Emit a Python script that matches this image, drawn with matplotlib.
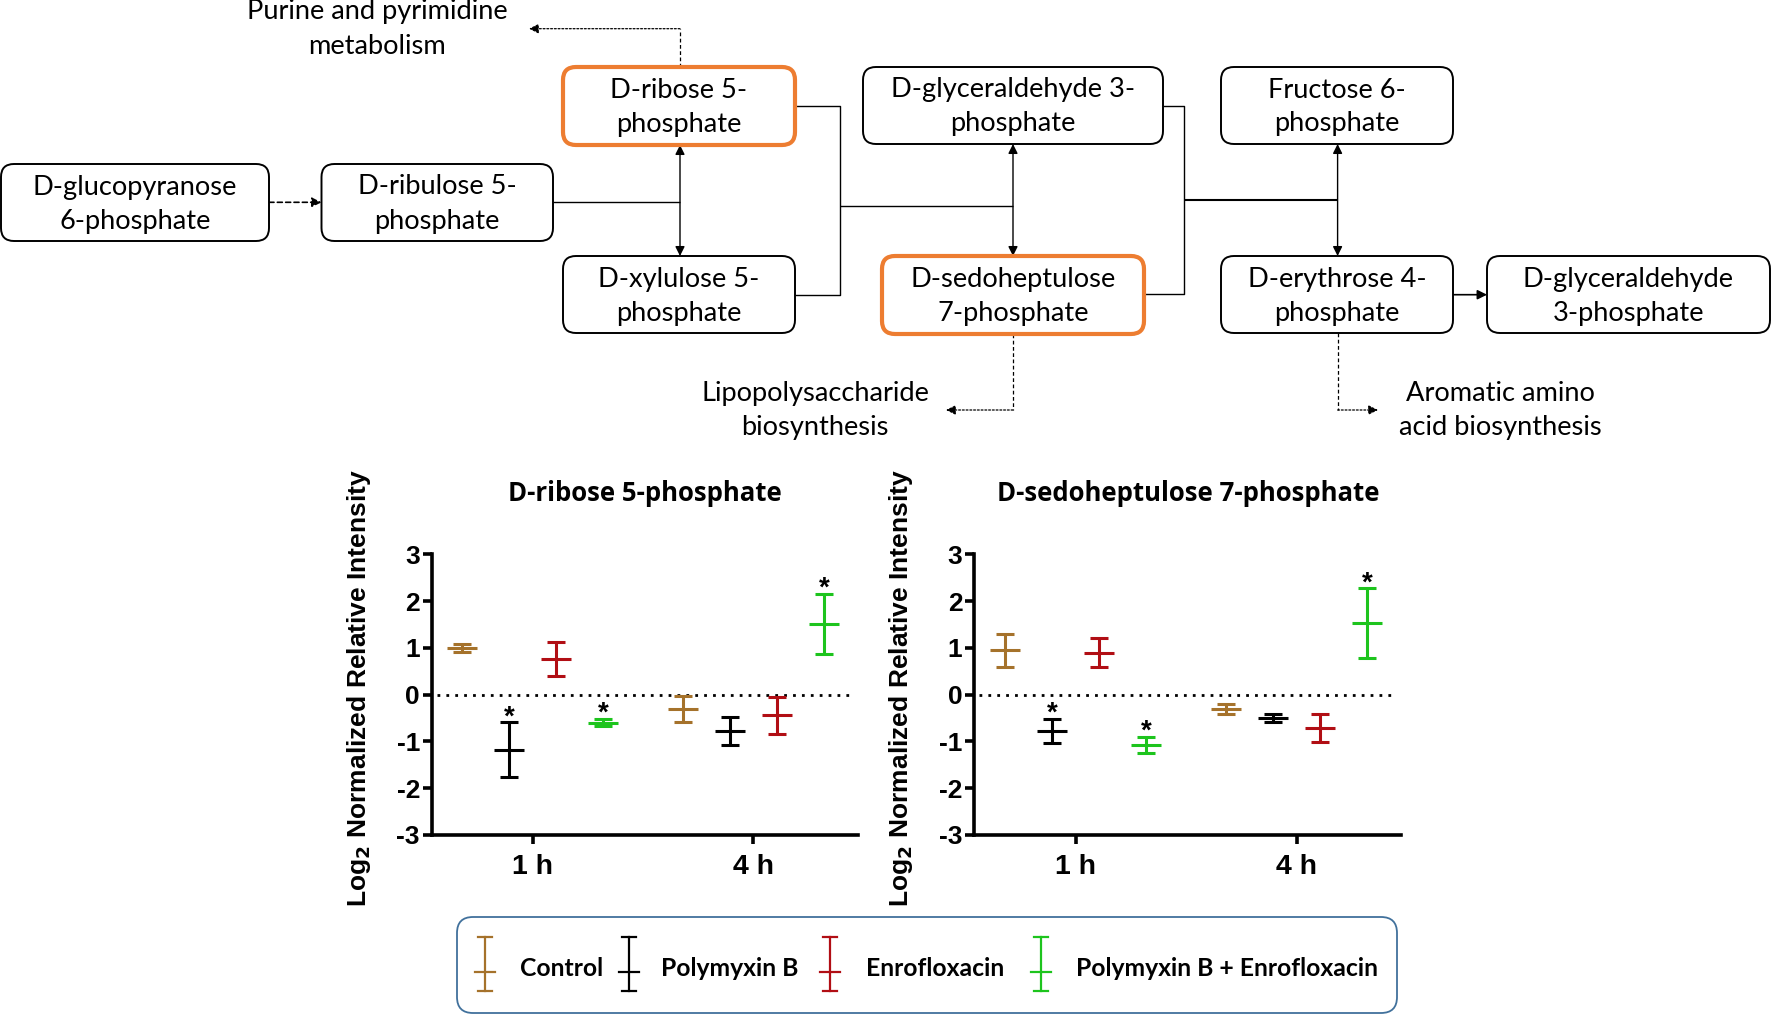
import matplotlib
matplotlib.use('Agg')
import matplotlib.pyplot as plt
from matplotlib.patches import FancyBboxPatch, FancyArrowPatch
import numpy as np

# ---------------- data ----------------
groups = ['1 h', '4 h']
series = ['Control', 'Polymyxin B', 'Enrofloxacin', 'Polymyxin B + Enrofloxacin']
colors = ['#A5722B', '#000000', '#B10E14', '#1DC41D']

r5p_title = 'D-ribose 5-phosphate'
r5p_mean = [[1.00, -0.31], [-1.18, -0.78], [0.76, -0.44], [-0.60, 1.51]]
r5p_err = [[0.08, 0.28], [0.59, 0.30], [0.37, 0.40], [0.08, 0.65]]
r5p_sig = [[0, 0], [1, 0], [0, 0], [1, 1]]

s7p_title = 'D-sedoheptulose 7-phosphate'
s7p_mean = [[0.95, -0.31], [-0.78, -0.50], [0.90, -0.71], [-1.07, 1.53]]
s7p_err = [[0.35, 0.10], [0.26, 0.08], [0.31, 0.30], [0.17, 0.74]]
s7p_sig = [[0, 0], [1, 0], [0, 0], [1, 1]]

yticks = [3, 2, 1, 0, -1, -2, -3]

W, H = 1772, 1016
fig = plt.figure(figsize=(W / 100, H / 100), dpi=100)
bg = fig.add_axes([0, 0, 1, 1])
bg.set_xlim(0, W)
bg.set_ylim(H, 0)
bg.axis('off')

DFONT = 'Lato'
ORANGE = '#ED7D31'
DSIZE = 19.6

# ---------------- pathway diagram ----------------
boxes = [
    (("D-glucopyranose", "6-phosphate"), 1, 164, 269, 241, False),
    (("D-ribulose 5-", "phosphate"), 321.5, 164, 553, 241, False),
    (("D-ribose 5-", "phosphate"), 563, 67, 795, 145, True),
    (("D-xylulose 5-", "phosphate"), 563, 256, 795, 333, False),
    (("D-glyceraldehyde 3-", "phosphate"), 863, 67, 1163, 144, False),
    (("D-sedoheptulose", "7-phosphate"), 882, 256, 1144, 334, True),
    (("Fructose 6-", "phosphate"), 1221, 67, 1453, 144, False),
    (("D-erythrose 4-", "phosphate"), 1221, 256, 1453, 333, False),
    (("D-glyceraldehyde", "3-phosphate"), 1487, 256, 1770, 333, False),
]
for (l1, l2), x0, y0, x1, y1, hi in boxes:
    p = FancyBboxPatch((x0, y0), x1 - x0, y1 - y0,
                       boxstyle='round,pad=0,rounding_size=13',
                       fc='white', ec=ORANGE if hi else 'black',
                       lw=3.0 if hi else 1.4, zorder=3)
    bg.add_patch(p)
    cx, cy = (x0 + x1) / 2, (y0 + y1) / 2
    bg.text(cx, cy - 8, l1, ha='center', va='baseline', fontsize=DSIZE,
            family=DFONT, zorder=4)
    bg.text(cx, cy + 26, l2, ha='center', va='baseline', fontsize=DSIZE,
            family=DFONT, zorder=4)

LW = 1.0
def seg(pts, ls='-', lw=LW):
    xs, ys = zip(*pts)
    bg.plot(xs, ys, color='black', lw=lw, ls=ls, zorder=2, solid_capstyle='butt')

def arrow(p0, p1, style='-|>', ls='-', lw=LW):
    a = FancyArrowPatch(p0, p1, arrowstyle=style, mutation_scale=14,
                        color='black', lw=lw, linestyle=ls,
                        shrinkA=0, shrinkB=0, zorder=2)
    bg.add_patch(a)

arrow((269, 202.3), (321.5, 202.3), ls=(0, (3, 2)), lw=1.2)
seg([(553, 202.3), (680, 202.3)])
arrow((680, 145), (680, 256), style='<|-|>')
seg([(680, 67), (680, 28.7)], ls=(0, (3, 2)), lw=0.9)
arrow((680, 28.7), (529, 28.7), ls=(0, (1.5, 1.5)), lw=0.9)
seg([(795, 106), (840, 106), (840, 294.7), (795, 294.7)])
seg([(840, 206.3), (1013, 206.3)])
arrow((1013, 144), (1013, 256), style='<|-|>')
seg([(1163, 106), (1184, 106), (1184, 294.3), (1144, 294.3)])
seg([(1184, 200), (1337.6, 200)], lw=1.5)
arrow((1337.6, 144), (1337.6, 256), style='<|-|>')
arrow((1453, 294.7), (1487, 294.7), lw=1.2)
seg([(1013, 334), (1013, 410)], ls=(0, (3, 2)), lw=0.9)
arrow((1013, 410), (946, 410), ls=(0, (1.5, 1.5)), lw=0.9)
seg([(1337.6, 333), (1337.6, 410)], ls=(0, (3, 2)), lw=0.9)
arrow((1337.6, 410), (1378, 410), ls=(0, (1.5, 1.5)), lw=0.9)

side_labels = [
    (("Purine and pyrimidine", "metabolism"), 377, 19.5),
    (("Lipopolysaccharide", "biosynthesis"), 815, 401),
    (("Aromatic amino", "acid biosynthesis"), 1500, 401),
]
for (l1, l2), cx, yb in side_labels:
    bg.text(cx, yb, l1, ha='center', va='baseline', fontsize=DSIZE, family=DFONT)
    bg.text(cx, yb + 34.5, l2, ha='center', va='baseline', fontsize=DSIZE, family=DFONT)

# ---------------- charts ----------------
CFONT = 'Liberation Sans'
TFONT = 'Open Sans'
dx = 0.2135

def panel(rect, title, means, errs, sigs):
    ax = fig.add_axes(rect)
    ax.set_xlim(-0.459, 1.475)
    ax.set_ylim(-3, 3)
    for i, (m, e, s, c) in enumerate(zip(means, errs, sigs, colors)):
        xs = np.arange(len(groups)) + (i - 1.5) * dx
        ax.errorbar(xs, m, yerr=e, fmt='_', color=c, ecolor=c, elinewidth=2.2,
                    capsize=6.5, capthick=2.2, markersize=21.5, mew=2.2, zorder=3)
        for x, mv, ev, sv in zip(xs, m, e, s):
            if sv:
                ax.annotate('*', xy=(x, mv + ev), xytext=(0, -1.5),
                            textcoords='offset points', ha='center', va='baseline',
                            fontsize=20, fontweight='bold', family=CFONT)
    ax.axhline(0, xmin=0.012, xmax=0.985, color='black', lw=2,
               ls=(0, (1, 2.2)), zorder=1)
    for s in ['top', 'right']:
        ax.spines[s].set_visible(False)
    for s in ['left', 'bottom']:
        ax.spines[s].set_linewidth(2.6)
    ax.set_yticks(yticks)
    ax.set_yticklabels([str(v) for v in yticks])
    ax.set_xticks(np.arange(len(groups)))
    ax.set_xticklabels(groups)
    ax.tick_params(axis='y', direction='out', length=6.5, width=2.6, pad=2,
                   labelsize=19)
    ax.tick_params(axis='x', direction='out', length=6.5, width=2.6, pad=7,
                   labelsize=20.5)
    for lab in ax.get_xticklabels() + ax.get_yticklabels():
        lab.set_fontweight('bold')
        lab.set_family(CFONT)
    ax.set_ylabel(r'Log$_{\mathbf{2}}$ Normalized Relative Intensity',
                  fontsize=19, fontweight='bold', family=CFONT)
    ax.yaxis.label.set_verticalalignment('center')
    ax.yaxis.set_label_coords(-0.171, 0.522)
    ax.text(0.5, 1.218, title, transform=ax.transAxes, ha='center', va='center',
            fontsize=18.5, fontweight='bold', family=TFONT)
    return ax

top_px, bot_px = 554.3, 835
panel([431.8 / W, 1 - bot_px / H, (857.9 - 431.8) / W, (bot_px - top_px) / H],
      r5p_title, r5p_mean, r5p_err, r5p_sig)
panel([974.3 / W, 1 - bot_px / H, (1401.4 - 974.3) / W, (bot_px - top_px) / H],
      s7p_title, s7p_mean, s7p_err, s7p_sig)

# ---------------- legend ----------------
leg = FancyBboxPatch((457, 917), 1397 - 457, 1013 - 917,
                     boxstyle='round,pad=0,rounding_size=16',
                     fc='white', ec='#41719C', lw=1.3, zorder=2)
bg.add_patch(leg)
glyph_x = [485.5, 629.4, 829.7, 1041]
text_x = [520.4, 661.3, 866.4, 1075.8]
for name, c, gx, tx in zip(series, colors, glyph_x, text_x):
    bg.plot([gx, gx], [937, 991], color=c, lw=1.6, zorder=3)
    bg.plot([gx - 7, gx + 7], [937, 937], color=c, lw=1.6, zorder=3)
    bg.plot([gx - 7, gx + 7], [991, 991], color=c, lw=1.6, zorder=3)
    bg.plot([gx - 10, gx + 10], [971.5, 971.5], color=c, lw=1.6, zorder=3)
    bg.text(tx, 969, name, ha='left', va='center', fontsize=17.8,
            fontweight='bold', family=DFONT, zorder=3)

fig.savefig('out.png', dpi=100)
